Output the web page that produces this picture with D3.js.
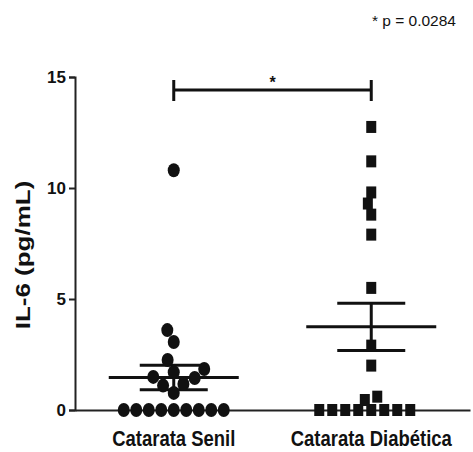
<!DOCTYPE html>
<html>
<head>
<meta charset="utf-8">
<script src="https://cdn.jsdelivr.net/npm/d3@7"></script>
<style>
  body { margin: 0; background: #fff; }
  text { font-family: "Liberation Sans", Arial, sans-serif; fill: #111; }
</style>
</head>
<body>
<svg id="chart" width="473" height="452"></svg>
<script>
const categories = ['Catarata Senil', 'Catarata Diabética'];
const senil = [0, 0, 0, 0, 0, 0, 0, 0, 0, 0.77, 1.1, 1.17, 1.44, 1.49, 1.7, 1.85, 2.25, 3.06, 3.6, 10.8];
const diabetica = [0, 0, 0, 0, 0, 0, 0, 0, 0.45, 0.6, 2.0, 2.9, 5.5, 7.9, 8.8, 9.3, 9.8, 11.2, 12.75];
const yTicks = [0, 5, 10, 15];
const yLabel = 'IL-6 (pg/mL)';
const pNote = '* p = 0.0284';

const svg = d3.select('#chart');
const x = d3.scaleBand().domain(categories).range([75, 470]);
const y = d3.scaleLinear().domain([0, 15]).range([410, 77]);
const cx = (c) => x(c) + x.bandwidth() / 2;

// y axis
const yAxis = svg.append('g')
  .attr('transform', 'translate(75,0)')
  .call(d3.axisLeft(y).tickValues(yTicks).tickSize(6).tickPadding(3));
yAxis.select('.domain').attr('stroke', '#222').attr('stroke-width', 2);
yAxis.selectAll('.tick line').attr('stroke', '#222').attr('stroke-width', 2);
yAxis.selectAll('.tick text')
  .attr('font-size', 17).attr('font-weight', 'bold')
  .attr('fill', '#111');

// x axis
const xAxis = svg.append('g')
  .attr('transform', 'translate(0,410)')
  .call(d3.axisBottom(x).tickSize(6).tickPadding(6).tickSizeOuter(0));
xAxis.select('.domain').attr('stroke', '#222').attr('stroke-width', 2);
xAxis.selectAll('.tick line').attr('stroke', '#222').attr('stroke-width', 2);
xAxis.selectAll('.tick text').remove();
categories.forEach((c) => {
  svg.append('text')
    .attr('transform', `translate(${cx(c)},446) scale(0.84,1)`)
    .attr('text-anchor', 'middle')
    .attr('font-size', 22).attr('font-weight', 'bold')
    .text(c);
});

// y label
svg.append('text')
  .attr('transform', 'translate(30,255) rotate(-90) scale(1,0.8)')
  .attr('text-anchor', 'middle')
  .attr('font-size', 26).attr('font-weight', 'bold')
  .text(yLabel);

// simple beeswarm: push each point sideways until it does not overlap
function swarm(values, w, h) {
  const placed = [];
  values.slice().sort((a, b) => a - b).forEach((v) => {
    const py = y(v);
    const blocks = placed
      .filter((p) => Math.abs(p.py - py) < h)
      .map((p) => {
        const half = w * Math.sqrt(1 - ((p.py - py) / h) ** 2);
        return [p.dx - half, p.dx + half];
      });
    const cands = [0];
    blocks.forEach((b) => { cands.push(b[0], b[1]); });
    cands.sort((a, b) => Math.abs(a) - Math.abs(b) || a - b);
    const free = cands.find((c) => blocks.every((b) => c <= b[0] + 1e-6 || c >= b[1] - 1e-6));
    placed.push({ v, py, dx: free });
  });
  return placed;
}

function meanSem(values) {
  const m = d3.mean(values);
  const sem = d3.deviation(values) / Math.sqrt(values.length);
  return [m, sem];
}

function drawStats(c, values) {
  const [m, sem] = meanSem(values);
  const g = svg.append('g').attr('stroke', '#111').attr('stroke-width', 3);
  const c0 = cx(c);
  g.append('line').attr('x1', c0 - 65).attr('x2', c0 + 65).attr('y1', y(m)).attr('y2', y(m));
  g.append('line').attr('x1', c0 - 34).attr('x2', c0 + 34).attr('y1', y(m + sem)).attr('y2', y(m + sem));
  g.append('line').attr('x1', c0 - 34).attr('x2', c0 + 34).attr('y1', y(m - sem)).attr('y2', y(m - sem));
  g.append('line').attr('x1', c0).attr('x2', c0).attr('y1', y(m + sem)).attr('y2', y(m - sem));
}

drawStats(categories[0], senil);
drawStats(categories[1], diabetica);

// points
svg.append('g').selectAll('ellipse')
  .data(swarm(senil, 12.5, 14))
  .join('ellipse')
  .attr('cx', (d) => cx(categories[0]) + d.dx)
  .attr('cy', (d) => d.py)
  .attr('rx', 6).attr('ry', 7)
  .attr('fill', '#111');

svg.append('g').selectAll('rect')
  .data(swarm(diabetica, 13, 11.5))
  .join('rect')
  .attr('x', (d) => cx(categories[1]) + d.dx - 5)
  .attr('y', (d) => d.py - 6)
  .attr('width', 10).attr('height', 12)
  .attr('fill', '#111');

// significance bracket
const bx1 = cx(categories[0]);
const bx2 = cx(categories[1]);
const br = svg.append('g').attr('stroke', '#111').attr('stroke-width', 3);
br.append('line').attr('x1', bx1).attr('x2', bx2).attr('y1', 90).attr('y2', 90);
br.append('line').attr('x1', bx1).attr('x2', bx1).attr('y1', 80).attr('y2', 101);
br.append('line').attr('x1', bx2).attr('x2', bx2).attr('y1', 80).attr('y2', 101);
svg.append('text')
  .attr('x', (bx1 + bx2) / 2).attr('y', 88)
  .attr('text-anchor', 'middle')
  .attr('font-size', 16).attr('font-weight', 'bold')
  .text('*');

svg.append('text')
  .attr('x', 456).attr('y', 26)
  .attr('text-anchor', 'end')
  .attr('font-size', 15.5)
  .text(pNote);
</script>
</body>
</html>
